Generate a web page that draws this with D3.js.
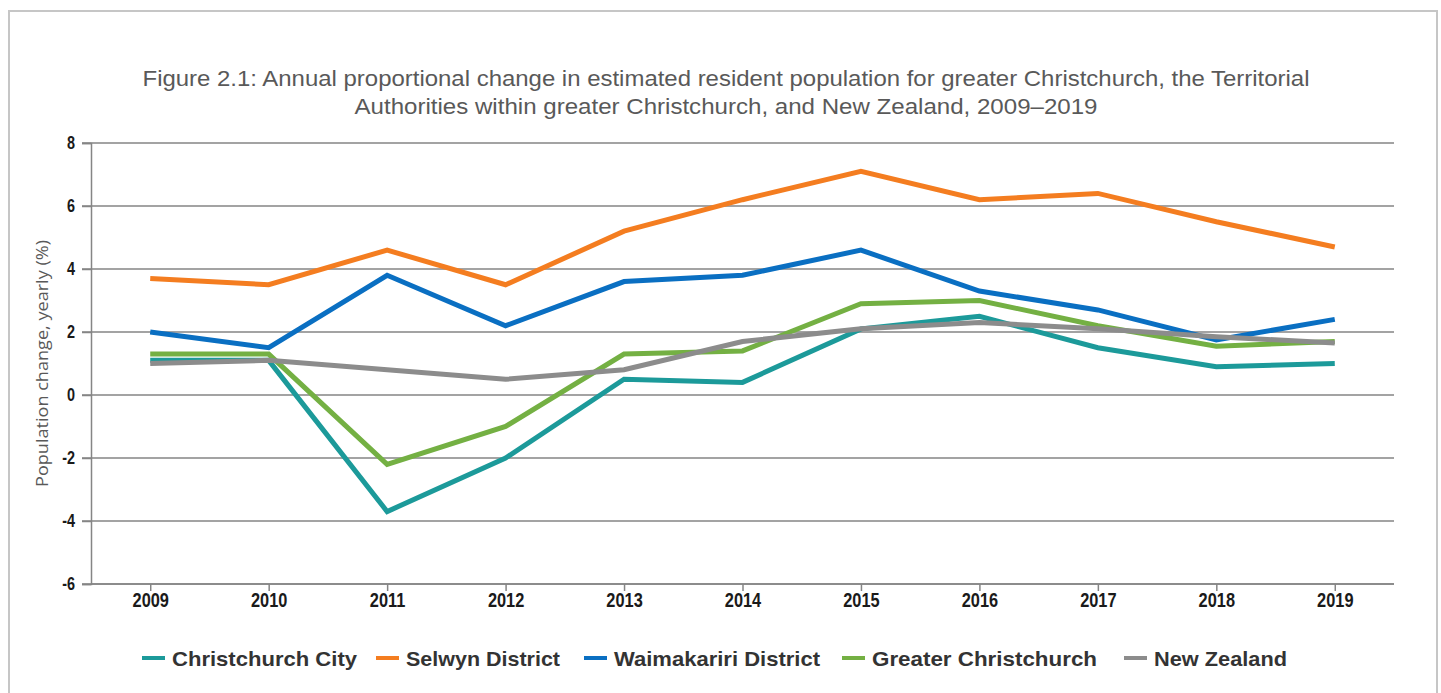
<!DOCTYPE html>
<html>
<head>
<meta charset="utf-8">
<script src="https://cdn.jsdelivr.net/npm/d3@7"></script>
<style>
  body { margin: 0; background: #fff; }
  svg { display: block; }
</style>
</head>
<body>
<div id="chart"></div>
<script>
  const width = 1441, height = 693;

  // data
  const years = ["2009", "2010", "2011", "2012", "2013", "2014", "2015", "2016", "2017", "2018", "2019"];
  const seriesNames = ["Christchurch City", "Selwyn District", "Waimakariri District", "Greater Christchurch", "New Zealand"];
  const seriesColors = ["#1c9a9a", "#f47d20", "#0a6fc2", "#74b043", "#8c8c8c"];
  const christchurchCity = [1.1, 1.1, -3.7, -2.0, 0.5, 0.4, 2.1, 2.5, 1.5, 0.9, 1.0];
  const selwynDistrict = [3.7, 3.5, 4.6, 3.5, 5.2, 6.2, 7.1, 6.2, 6.4, 5.5, 4.7];
  const waimakaririDistrict = [2.0, 1.5, 3.8, 2.2, 3.6, 3.8, 4.6, 3.3, 2.7, 1.75, 2.4];
  const greaterChristchurch = [1.3, 1.3, -2.2, -1.0, 1.3, 1.4, 2.9, 3.0, 2.2, 1.55, 1.7];
  const newZealand = [1.0, 1.1, 0.8, 0.5, 0.8, 1.7, 2.1, 2.3, 2.1, 1.85, 1.65];
  const yTicks = [-6, -4, -2, 0, 2, 4, 6, 8];

  const seriesValues = [christchurchCity, selwynDistrict, waimakaririDistrict, greaterChristchurch, newZealand];

  const svg = d3.select('#chart')
    .append('svg')
    .attr('width', width)
    .attr('height', height);

  // outer frame
  svg.append('rect')
    .attr('x', 9).attr('y', 11)
    .attr('width', 1428).attr('height', 700)
    .attr('fill', 'none')
    .attr('stroke', '#c6c6c6')
    .attr('stroke-width', 2);

  // title (stretched to the width of the original lines)
  const title = svg.append('text')
    .attr('text-anchor', 'middle')
    .attr('fill', '#595959')
    .style('font-family', '"Liberation Sans", Arial, sans-serif')
    .style('font-size', '22px');
  title.append('tspan').attr('x', 726).attr('y', 86)
    .attr('textLength', 1167).attr('lengthAdjust', 'spacingAndGlyphs')
    .text('Figure 2.1: Annual proportional change in estimated resident population for greater Christchurch, the Territorial');
  title.append('tspan').attr('x', 726).attr('y', 114)
    .attr('textLength', 743).attr('lengthAdjust', 'spacingAndGlyphs')
    .text('Authorities within greater Christchurch, and New Zealand, 2009\u20132019');

  const margin = { left: 91, right: 1394, top: 143, bottom: 584 };

  const x = d3.scalePoint()
    .domain(years)
    .range([margin.left, margin.right])
    .padding(0.5);

  const y = d3.scaleLinear()
    .domain([-6, 8])
    .range([margin.bottom, margin.top]);

  const tickFont = '"Liberation Sans", Arial, sans-serif';

  // horizontal grid
  svg.append('g')
    .selectAll('line')
    .data(yTicks)
    .join('line')
    .attr('x1', margin.left - 9)
    .attr('x2', margin.right)
    .attr('y1', d => y(d))
    .attr('y2', d => y(d))
    .attr('stroke', '#858585')
    .attr('stroke-width', 1.5);

  // y axis (labels squeezed a little, like a narrow face)
  const yScaleX = 0.78;
  const yAxis = svg.append('g')
    .attr('transform', `translate(${margin.left},0)`)
    .call(d3.axisLeft(y).tickValues(yTicks).tickSize(9).tickPadding(7).tickFormat(d => String(d)));
  yAxis.select('.domain').attr('stroke', '#858585').attr('stroke-width', 1.5);
  yAxis.selectAll('.tick line').attr('stroke', '#858585').attr('stroke-width', 1.5);
  yAxis.selectAll('.tick text')
    .attr('x', -16 / yScaleX)
    .attr('transform', `scale(${yScaleX},1)`)
    .attr('fill', '#1a1a1a')
    .style('font-family', tickFont)
    .style('font-weight', 'bold')
    .style('font-size', '18.5px');

  // x axis
  const xAxis = svg.append('g')
    .attr('transform', `translate(0,${margin.bottom})`)
    .call(d3.axisBottom(x).tickSize(7).tickSizeOuter(0).tickPadding(2));
  xAxis.select('.domain')
    .attr('d', `M${margin.left},0H${margin.right}`)
    .attr('stroke', '#858585').attr('stroke-width', 1.5);
  xAxis.selectAll('.tick line').attr('stroke', '#858585').attr('stroke-width', 1.5);
  xAxis.selectAll('.tick text')
    .attr('transform', 'scale(0.84,1)')
    .attr('fill', '#1a1a1a')
    .style('font-family', tickFont)
    .style('font-weight', 'bold')
    .style('font-size', '19.5px');

  // y axis title
  svg.append('text')
    .attr('transform', `translate(48,${(margin.top + margin.bottom) / 2}) rotate(-90)`)
    .attr('text-anchor', 'middle')
    .attr('fill', '#595959')
    .attr('textLength', 247).attr('lengthAdjust', 'spacingAndGlyphs')
    .style('font-family', '"Open Sans", "DejaVu Sans", sans-serif')
    .style('font-size', '17px')
    .text('Population change, yearly (%)');

  // lines
  const line = d3.line()
    .x((d, i) => x(years[i]))
    .y(d => y(d));

  svg.append('g')
    .selectAll('path')
    .data(seriesValues)
    .join('path')
    .attr('d', line)
    .attr('fill', 'none')
    .attr('stroke', (d, i) => seriesColors[i])
    .attr('stroke-width', 5)
    .attr('stroke-linejoin', 'miter');

  // legend
  const legend = svg.append('g').attr('transform', 'translate(0,658)');
  const legendStarts = [142, 376, 584, 842, 1124];
  const legendWidths = [185, 154, 206, 225, 133];
  seriesNames.forEach((name, i) => {
    const g = legend.append('g').attr('transform', `translate(${legendStarts[i]},0)`);
    g.append('line')
      .attr('x1', 0).attr('x2', 23)
      .attr('stroke', seriesColors[i])
      .attr('stroke-width', 4);
    g.append('text')
      .attr('x', 30)
      .attr('dy', '0.36em')
      .attr('fill', '#333')
      .attr('textLength', legendWidths[i]).attr('lengthAdjust', 'spacingAndGlyphs')
      .style('font-family', '"Liberation Sans", Arial, sans-serif')
      .style('font-weight', 'bold')
      .style('font-size', '21px')
      .text(name);
  });
</script>
</body>
</html>
